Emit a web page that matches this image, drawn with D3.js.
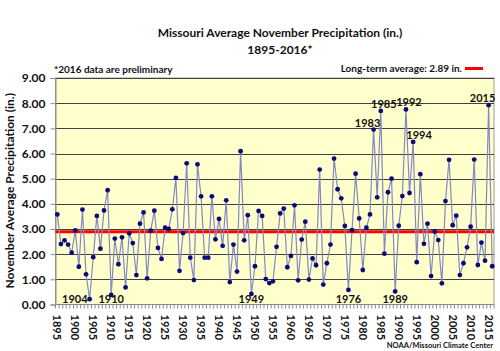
<!DOCTYPE html>
<html>
<head>
<meta charset="utf-8">
<script src="https://cdn.jsdelivr.net/npm/d3@7"></script>
<style>
  body { margin: 0; background: #fff; }
  text { font-family: Lato, "Open Sans", sans-serif; font-weight: bold; fill: #111; }
</style>
</head>
<body>
<div id="chart"></div>
<script>
// November precipitation, inches, 1895-2016 (2016 preliminary)
const years = d3.range(1895, 2017);
const precip = [
  3.58, 2.40, 2.55, 2.38, 2.06, 2.94, 1.50, 3.77, 1.20, 0.21,
  1.88, 3.52, 2.22, 3.74, 4.54, 0.38, 2.62, 1.60, 2.67, 0.68,
  2.83, 2.44, 1.17, 3.21, 3.66, 1.04, 2.93, 3.73, 2.25, 1.81,
  3.05, 3.00, 3.78, 5.03, 1.34, 2.84, 5.61, 1.86, 0.97, 5.57,
  4.30, 1.86, 1.86, 4.30, 2.59, 3.40, 2.33, 4.14, 0.89, 2.38,
  1.31, 6.09, 2.55, 3.55, 0.42, 1.52, 3.72, 3.52, 1.01, 0.85,
  0.92, 2.29, 3.62, 3.81, 1.48, 1.93, 3.94, 0.96, 2.58, 3.29,
  0.99, 1.83, 1.56, 5.36, 0.79, 1.64, 2.38, 5.80, 4.58, 4.22,
  3.12, 0.58, 2.95, 5.20, 3.42, 1.37, 3.05, 3.58, 6.95, 4.26,
  7.69, 2.02, 4.46, 5.00, 0.52, 3.13, 4.31, 7.75, 4.43, 6.46,
  1.68, 5.18, 2.41, 3.21, 1.13, 2.90, 2.56, 0.84, 4.11, 5.75,
  3.15, 3.53, 1.17, 1.64, 2.27, 3.09, 5.76, 1.57, 2.46, 1.74,
  7.92, 1.52
];
const longTermAvg = 2.89;
const yTicks = [0, 1, 2, 3, 4, 5, 6, 7, 8, 9];
const lowLabels = [1904, 1910, 1949, 1976, 1989];
const highLabels = [1983, 1985, 1992, 1994, 2015];

const data = years.map((yr, i) => ({ year: yr, value: precip[i] }));

const width = 500, height = 351;
const plot = { left: 55.5, right: 494, top: 78, bottom: 304.5 };

const svg = d3.select("#chart")
    .append("svg")
    .attr("width", width)
    .attr("height", height);

// Scales
const x = d3.scaleBand()
    .domain(years)
    .range([plot.left, plot.right]);
const cx = d => x(d) + x.bandwidth() / 2;

const y = d3.scaleLinear()
    .domain([0, 9])
    .range([plot.bottom, plot.top]);

// Plot background
svg.append("rect")
    .attr("x", plot.left)
    .attr("y", plot.top)
    .attr("width", plot.right - plot.left)
    .attr("height", plot.bottom - plot.top)
    .attr("fill", "#ffffcc")
    .attr("stroke", "#9a9a9a");

// Gridlines
svg.append("g")
    .selectAll("line")
    .data(yTicks.filter(d => d > 0))
    .enter()
    .append("line")
    .attr("x1", plot.left)
    .attr("x2", plot.right)
    .attr("y1", d => Math.round(y(d)) + 0.5)
    .attr("y2", d => Math.round(y(d)) + 0.5)
    .attr("stroke", "#404040");

// Y axis
const yAxis = svg.append("g")
    .attr("transform", `translate(${plot.left},0)`)
    .call(d3.axisLeft(y).tickValues(yTicks).tickFormat(d3.format(".2f")).tickSize(5).tickPadding(5));
yAxis.select(".domain").attr("stroke", "#8a8a8a");
yAxis.selectAll(".tick line").attr("stroke", "#8a8a8a");
yAxis.selectAll(".tick text")
    .style("font-size", "12px")
    .style("font-family", "Lato, sans-serif")
    .style("font-weight", "bold")
    .attr("fill", "#111");

// X axis: line, a tick at each category edge, label every 5 years
const xAxis = svg.append("g");
xAxis.append("line")
    .attr("x1", plot.left).attr("x2", plot.right)
    .attr("y1", plot.bottom).attr("y2", plot.bottom)
    .attr("stroke", "#8a8a8a");
xAxis.selectAll(".xtick")
    .data(years.concat([null]))
    .enter()
    .append("line")
    .attr("class", "xtick")
    .attr("x1", d => d === null ? plot.right : x(d))
    .attr("x2", d => d === null ? plot.right : x(d))
    .attr("y1", plot.bottom)
    .attr("y2", plot.bottom + 4)
    .attr("stroke", "#8a8a8a");
xAxis.selectAll(".xlabel")
    .data(years.filter(d => d % 5 === 0))
    .enter()
    .append("text")
    .attr("class", "xlabel")
    .attr("transform", d => `translate(${cx(d)},${plot.bottom + 10}) rotate(90)`)
    .attr("dy", "0.35em")
    .style("font-size", "11px")
    .text(d => d);

// Long-term average line
svg.append("line")
    .attr("x1", plot.left)
    .attr("x2", plot.right)
    .attr("y1", y(longTermAvg))
    .attr("y2", y(longTermAvg))
    .attr("stroke", "#ff0000")
    .attr("stroke-width", 3);

// Series line and markers
const line = d3.line()
    .x(d => cx(d.year))
    .y(d => y(d.value));

svg.append("path")
    .datum(data)
    .attr("d", line)
    .attr("fill", "none")
    .attr("stroke", "#8488c4")
    .attr("stroke-width", 1.2);

svg.append("g")
    .selectAll("circle")
    .data(data)
    .enter()
    .append("circle")
    .attr("cx", d => cx(d.year))
    .attr("cy", d => y(d.value))
    .attr("r", 2.4)
    .attr("fill", "#0a0a78");

// Year annotations
const byYear = new Map(data.map(d => [d.year, d]));
svg.append("g")
    .selectAll("text")
    .data(lowLabels)
    .enter()
    .append("text")
    .attr("x", d => d === 1904 ? cx(d) - 2 : cx(d))
    .attr("y", plot.bottom - 2)
    .attr("text-anchor", d => d === 1904 ? "end" : "middle")
    .style("font-size", "11px")
    .text(d => d);

svg.append("g")
    .selectAll("text")
    .data(highLabels)
    .enter()
    .append("text")
    .attr("x", d => cx(d) + (d === 1983 || d === 2015 ? -6 : d === 1994 ? 6 : 3))
    .attr("y", d => y(byYear.get(d).value) - 3)
    .attr("text-anchor", "middle")
    .style("font-size", "11px")
    .text(d => d);

// Titles
svg.append("text")
    .attr("x", 280)
    .attr("y", 37)
    .attr("text-anchor", "middle")
    .style("font-size", "12px")
    .text("Missouri Average November Precipitation (in.)");
svg.append("text")
    .attr("x", 280)
    .attr("y", 54)
    .attr("text-anchor", "middle")
    .style("font-size", "12px")
    .text("1895-2016*");

svg.append("text")
    .attr("x", 54)
    .attr("y", 73)
    .style("font-size", "10px")
    .text("*2016 data are preliminary");

// Legend
svg.append("text")
    .attr("x", 462)
    .attr("y", 72)
    .attr("text-anchor", "end")
    .style("font-size", "10px")
    .text(`Long-term average: ${longTermAvg} in.`);
svg.append("line")
    .attr("x1", 465).attr("x2", 483)
    .attr("y1", 68.5).attr("y2", 68.5)
    .attr("stroke", "#ff0000")
    .attr("stroke-width", 3);

// Y axis title
svg.append("text")
    .attr("transform", `translate(14,${(plot.top + plot.bottom) / 2 - 0.5}) rotate(-90)`)
    .attr("text-anchor", "middle")
    .style("font-size", "12px")
    .text("November Average Precipitation (in.)");

// Source
svg.append("text")
    .attr("x", 493)
    .attr("y", 348)
    .attr("text-anchor", "end")
    .style("font-size", "7.5px")
    .text("NOAA/Missouri Climate Center");
</script>
</body>
</html>
